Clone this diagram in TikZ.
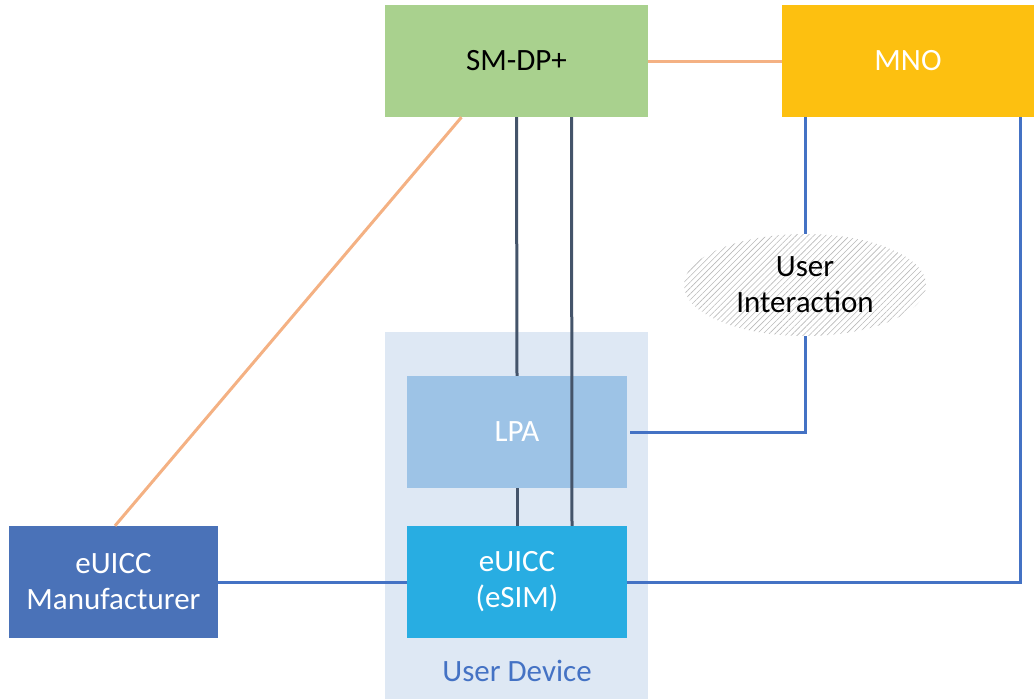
\documentclass[tikz,border=0pt]{standalone}
\usepackage{fontspec}
\setmainfont{Carlito}
\usetikzlibrary{patterns.meta,shapes.geometric}
\definecolor{smgreen}{HTML}{A9D18E}
\definecolor{mnoyellow}{HTML}{FDC010}
\definecolor{lpablue}{HTML}{9DC3E6}
\definecolor{esimblue}{HTML}{28ADE2}
\definecolor{manblue}{HTML}{4A72B8}
\definecolor{udbg}{HTML}{DEE8F4}
\definecolor{darkline}{HTML}{44546A}
\definecolor{orangeline}{HTML}{F4B183}
\definecolor{blueline}{HTML}{4472C4}
\tikzset{
  box/.style={rectangle, inner sep=0pt, font=\fontsize{31}{36}\selectfont, align=center, text=white},
  darkconn/.style={draw=darkline, line width=3pt},
  orangeconn/.style={draw=orangeline, line width=3pt},
  blueconn/.style={draw=blueline, line width=3pt},
}
\begin{document}
\begin{tikzpicture}[x=1pt,y=-1pt]
\useasboundingbox (0,0) rectangle (1034,699);
% background of user device
\node[rectangle, fill=udbg, minimum width=263pt, minimum height=367pt, inner sep=0pt] (ud) at (516.5,515.5) {};
\node[font=\fontsize{31}{36}\selectfont, text=blueline] (udlabel) at (517,671) {User Device};
% boxes
\node[box, fill=smgreen, text=black, minimum width=263pt, minimum height=112pt] (smdp) at (516.5,61) {SM-DP+};
\node[box, fill=mnoyellow, minimum width=252pt, minimum height=112pt] (mno) at (908,61) {MNO};
\node[box, fill=lpablue, minimum width=220pt, minimum height=112pt] (lpa) at (517,432) {LPA};
\node[box, fill=esimblue, minimum width=220pt, minimum height=112pt] (euicc) at (517,582) {eUICC\\(eSIM)};
\node[box, fill=manblue, minimum width=209pt, minimum height=112pt] (manuf) at (113.5,582) {eUICC\\Manufacturer};
\node[ellipse, pattern={Lines[angle=45,distance=4.2pt,line width=0.6pt]}, pattern color=gray!55, minimum width=242pt, minimum height=102pt, inner sep=0pt, font=\fontsize{31}{36}\selectfont, align=center] (ui) at (805,285) {User\\Interaction};
% connectors
\path[orangeconn] (smdp.east) -- (mno.west);
\path[orangeconn] ([xshift=-55pt]smdp.south) -- ([xshift=1.5pt]manuf.north);
\path[darkconn] (smdp.south) -- (lpa.north);
\path[darkconn] (lpa.south) -- (euicc.north);
\path[darkconn] ([xshift=55pt]smdp.south) -- ([xshift=55pt]euicc.north);
\path[blueconn] (manuf.east) -- (euicc.west);
\path[blueconn] (euicc.east) -| ([xshift=-14pt]mno.south east);
\path[blueconn] ([xshift=3pt]lpa.east) -| (ui.south);
\path[blueconn] (ui.north) -- (ui.north |- mno.south);
\end{tikzpicture}
\end{document}
